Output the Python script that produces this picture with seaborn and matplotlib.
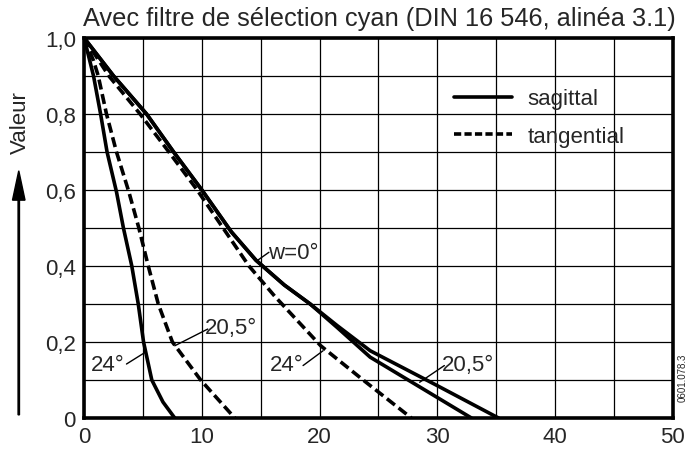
import matplotlib
matplotlib.use('Agg')
import matplotlib.pyplot as plt
from matplotlib.lines import Line2D
from matplotlib.patches import FancyArrow
from matplotlib.ticker import FixedLocator, FuncFormatter
import numpy as np
import pandas as pd
import seaborn as sns

# values (x = spatial frequency, y = contrast value)
w0_x = [0, 2.5, 5.3, 7.6, 10, 12.5, 14.6, 17, 19.2, 21.5, 24.3, 29.7, 35.2]
w0_y = [1, 0.9, 0.8, 0.7, 0.6, 0.49, 0.415, 0.35, 0.30, 0.243, 0.177, 0.09, 0]

sag205_x = [0, 2.5, 5.3, 7.6, 10, 12.5, 14.6, 17, 19.2, 21.5, 24.3, 28.6, 32.9]
sag205_y = [1, 0.9, 0.8, 0.7, 0.6, 0.49, 0.415, 0.35, 0.30, 0.238, 0.16, 0.08, 0]

tan24_x = [0, 2.1, 4.75, 7.2, 9.6, 11.8, 14.0, 16.2, 18.3, 20.1, 23.7, 27.8]
tan24_y = [1, 0.9, 0.8, 0.7, 0.6, 0.5, 0.40, 0.32, 0.25, 0.19, 0.10, 0]

sag24_x = [0, 0.8, 1.4, 1.95, 2.75, 3.34, 4.05, 4.6, 5.05, 5.75, 6.7, 7.7]
sag24_y = [1, 0.9, 0.8, 0.7, 0.595, 0.5, 0.4, 0.3, 0.2, 0.1, 0.042, 0]

tan205_x = [0, 0.8, 1.2, 1.9, 2.75, 3.8, 4.65, 5.45, 6.3, 7.5, 9.9, 12.8]
tan205_y = [1, 0.94, 0.9, 0.8, 0.7, 0.595, 0.5, 0.4, 0.3, 0.2, 0.1, 0]

x_ticks = [0, 10, 20, 30, 40, 50]
y_ticks = [0, 0.2, 0.4, 0.6, 0.8, 1.0]

sns.set_style('white')
plt.rcParams['font.family'] = ['Liberation Sans', 'DejaVu Sans']

fig = plt.figure(figsize=(6.95, 4.52), dpi=100)
ax = fig.add_axes([0.121, 0.073, 0.847, 0.841])

curves = [
    (w0_x, w0_y, 'solid'),
    (sag205_x, sag205_y, 'solid'),
    (sag24_x, sag24_y, 'solid'),
    (tan24_x, tan24_y, 'dashed'),
    (tan205_x, tan205_y, 'dashed'),
]
for xs, ys, style in curves:
    df = pd.DataFrame({'x': xs, 'y': ys})
    sns.lineplot(data=df, x='x', y='y', ax=ax, color='black', lw=2.6)
    if style == 'dashed':
        ax.lines[-1].set_dashes((2.8, 1.3))

ax.set_xlim(0, 50)
ax.set_ylim(0, 1.0)
ax.xaxis.set_major_locator(FixedLocator(x_ticks))
ax.yaxis.set_major_locator(FixedLocator(y_ticks))
ax.xaxis.set_minor_locator(FixedLocator(np.arange(5, 50, 10)))
ax.yaxis.set_minor_locator(FixedLocator(np.arange(0.1, 1.0, 0.2)))
ax.grid(True, which='both', color='black', lw=0.9)
ax.set_axisbelow(True)
ax.tick_params(which='both', length=0, labelsize=16, pad=6)
ax.xaxis.set_major_formatter(FuncFormatter(lambda v, p: '%d' % v))
ax.yaxis.set_major_formatter(
    FuncFormatter(lambda v, p: '0' if v == 0 else ('%.1f' % v).replace('.', ',')))
for s in ax.spines.values():
    s.set_color('black')
    s.set_linewidth(2.6)
ax.set_xlabel('')
ax.set_ylabel('')

# legend (no frame)
handles = [Line2D([], [], color='black', lw=2.6),
           Line2D([], [], color='black', lw=2.6, dashes=(2.0, 0.9))]
ax.legend(handles, ['sagittal', 'tangential'], frameon=False, fontsize=16,
          loc='upper left', bbox_to_anchor=(0.595, 0.92), handlelength=2.6,
          handletextpad=0.7, labelspacing=0.75)

# curve labels with leaders
labels = [
    ('24°', (2.0, 0.142), (5.2, 0.173), (3.6, 0.142)),
    ('20,5°', (12.5, 0.237), (7.7, 0.19), (10.5, 0.234)),
    ('w=0°', (17.8, 0.436), (14.7, 0.414), (15.7, 0.436)),
    ('24°', (17.2, 0.142), (20.3, 0.177), (18.6, 0.138)),
    ('20,5°', (32.6, 0.14), (28.5, 0.094), (30.6, 0.138)),
]
for txt, (tx, ty), (px, py), (lx, ly) in labels:
    ax.text(tx, ty, txt, fontsize=16, ha='center', va='center')
    ax.plot([lx, px], [ly, py], color='black', lw=1.0)

fig.text(0.119, 0.958, 'Avec filtre de sélection cyan (DIN 16 546, alinéa 3.1)',
         fontsize=18.3, ha='left', va='center')
fig.text(0.029, 0.728, 'Valeur', fontsize=16, rotation=90, ha='center', va='center')
fig.patches.append(FancyArrow(
    0.027, 0.08, 0, 0.54, width=0.002, head_width=0.018, head_length=0.065,
    length_includes_head=True, color='black', transform=fig.transFigure, figure=fig))
fig.text(0.982, 0.165, '0601.078.3', fontsize=7, rotation=90, ha='center', va='center')

fig.savefig('out.png', dpi=100)
